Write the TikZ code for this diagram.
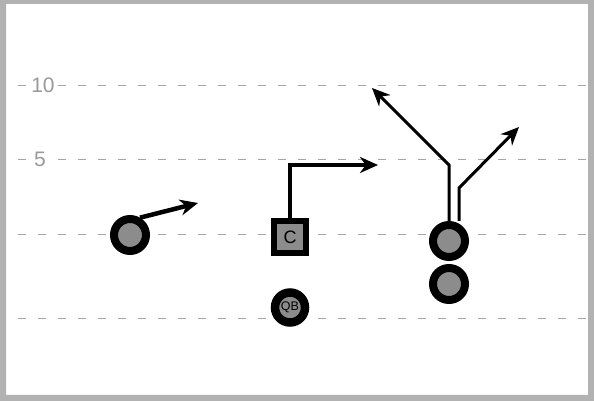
\documentclass[tikz,border=0pt]{standalone}
\usepackage{fontspec}
\setmainfont{Liberation Sans}
\usetikzlibrary{arrows.meta, positioning}

\begin{document}
\begin{tikzpicture}[x=1pt, y=1pt,
        player/.style={draw, circle, fill=black!45, line width=8pt, minimum size=32pt, inner sep=0pt},
        snapbox/.style={draw, rectangle, fill=black!45, line width=6.5pt, minimum size=32pt, inner sep=0pt, font=\fontsize{18}{18}\selectfont},
        qbball/.style={player, line width=8.5pt, minimum size=30pt, font=\fontsize{12.5}{12.5}\selectfont},
        yard/.style={draw=black!35, line width=0.8pt, dash pattern=on 8pt off 12pt},
        yardnum/.style={fill=white, text=black!40, inner sep=2pt, font=\fontsize{21}{21}\selectfont},
        route/.style={draw, -{Stealth[length=18pt, width=16pt]}, line width=4.5pt}]

        \useasboundingbox (0,0) rectangle (594,401);
        % frame
        \fill [black!30, even odd rule] (0,0) rectangle (594,401) (6,6) rectangle (588,397);

        % yard lines
        \path [yard] (18,316) -- (586,316);
        \path [yard] (18,242) -- (586,242);
        \path [yard] (18,167) -- (586,167);
        \path [yard] (18,83) -- (586,83);
        \node [yardnum] (ten) at (43,316) {10};
        \node [yardnum] (five) at (40,242) {5};

        % players
        \node [player] (lt) at (130,166) {};
        \node [snapbox] (c) at (290,164) {C};
        \node [qbball, below=32pt of c] (qb) {QB};
        \node [player] (rt) at (449,160) {};
        \node [player, below=3pt of rt] (fb) {};

        % route ends
        \coordinate (ltend) at (198,198);
        \coordinate (cend) at (378,236);
        \coordinate (r1bend) at (449,236);
        \coordinate (r1end) at (372,313);
        \coordinate (r2bend) at (459,213);
        \coordinate (r2end) at (519,274);

        % routes
        \path [route] (lt.60) -- (ltend);
        \path [route] (c.north) |- (cend);
        \path [route, line width=3pt] (rt.north) -- (r1bend) -- (r1end);
        \path [route, line width=3pt] ([xshift=10pt]rt.north) -- (r2bend) -- (r2end);
\end{tikzpicture}
\end{document}
